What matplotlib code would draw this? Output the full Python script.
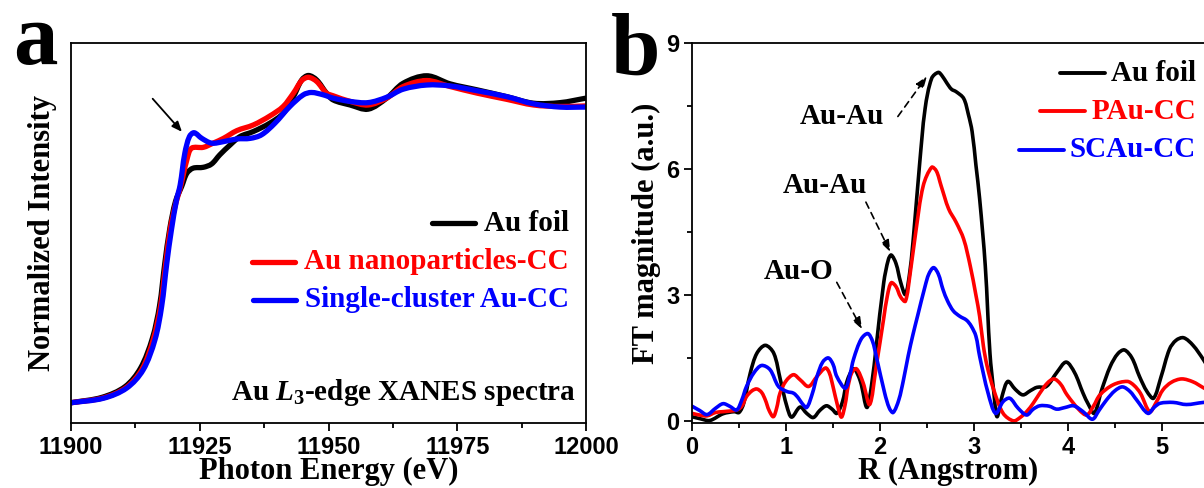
import numpy as np
import matplotlib
matplotlib.use("Agg")
import matplotlib.pyplot as plt
from matplotlib.lines import Line2D
from matplotlib.path import Path
from matplotlib.patches import PathPatch
from matplotlib.ticker import MultipleLocator, NullLocator

SERIF = "Liberation Serif"
SANS = "Liberation Sans"

plt.rcParams["mathtext.fontset"] = "custom"
plt.rcParams["mathtext.rm"] = "Liberation Serif:bold"
plt.rcParams["mathtext.it"] = "Liberation Serif:italic:bold"
plt.rcParams["mathtext.bf"] = "Liberation Serif:bold"

# ---------------- (a) Au L3-edge XANES ----------------
foil_E = [11900, 11906, 11910.5, 11913.5, 11915.8, 11917.2, 11918.2, 11919.2, 11920.3,
          11921.5, 11922.5, 11923.7, 11925.7, 11927.3, 11928.9, 11930.9, 11932.8, 11935.4,
          11938.6, 11941.2, 11943.2, 11944.8, 11946.1, 11947.7, 11949.6, 11950.9, 11954.2,
          11957.7, 11961.3, 11964.5, 11969.1, 11973.6, 11978.8, 11984.6, 11989.8, 11995.0, 12000]
foil_I = [0.004, 0.022, 0.058, 0.12, 0.22, 0.33, 0.47, 0.59, 0.68,
          0.73, 0.774, 0.791, 0.794, 0.805, 0.836, 0.869, 0.897, 0.914,
          0.942, 0.975, 1.031, 1.087, 1.102, 1.087, 1.043, 1.020, 1.003,
          0.989, 1.026, 1.076, 1.101, 1.074, 1.054, 1.031, 1.009, 1.011, 1.026]

np_E = [11900, 11906.2, 11910.7, 11913.8, 11916.0, 11917.4, 11918.4, 11919.3, 11920.3,
        11921.2, 11922.5, 11923.4, 11925.7, 11927.6, 11929.6, 11932.2, 11935.4, 11938.6,
        11941.2, 11943.2, 11944.8, 11946.1, 11947.7, 11949.6, 11950.9, 11954.2, 11957.7,
        11961.3, 11964.5, 11969.1, 11973.6, 11978.8, 11984.6, 11989.8, 11995.0, 12000]
np_I = [0.004, 0.02, 0.055, 0.117, 0.218, 0.33, 0.472, 0.59, 0.67,
        0.724, 0.819, 0.858, 0.861, 0.875, 0.891, 0.917, 0.936, 0.966,
        0.998, 1.043, 1.085, 1.096, 1.082, 1.043, 1.034, 1.015, 1.003,
        1.026, 1.065, 1.085, 1.065, 1.043, 1.022, 1.003, 0.998, 1.0]

sc_E = [11900, 11906.3, 11910.8, 11914.0, 11916.3, 11917.6, 11918.6, 11919.5, 11920.5,
        11921.2, 11922.1, 11923.0, 11923.9, 11925.4, 11927.3, 11929.6, 11932.2, 11934.8,
        11937.0, 11939.6, 11942.5, 11945.1, 11946.7, 11949.0, 11950.9, 11954.2, 11957.7,
        11961.3, 11964.5, 11969.1, 11973.6, 11978.8, 11984.6, 11989.8, 11995.0, 12000]
sc_I = [0.004, 0.019, 0.053, 0.114, 0.215, 0.327, 0.472, 0.584, 0.685,
        0.735, 0.841, 0.897, 0.910, 0.891, 0.875, 0.880, 0.889, 0.891,
        0.903, 0.942, 0.998, 1.037, 1.045, 1.037, 1.026, 1.015, 1.011,
        1.029, 1.056, 1.070, 1.067, 1.051, 1.031, 1.007, 0.996, 0.996]

xanes_labels = ["Au foil", "Au nanoparticles-CC", "Single-cluster Au-CC"]

# ---------------- (b) Fourier transformed EXAFS ----------------
foil_R = [0, 0.09, 0.19, 0.33, 0.45, 0.50, 0.55, 0.62, 0.69, 0.78, 0.87, 0.94, 1.01, 1.06,
          1.15, 1.22, 1.29, 1.36, 1.43, 1.49, 1.54, 1.60, 1.65, 1.72, 1.79, 1.86, 1.91, 1.96,
          2.04, 2.09, 2.12, 2.17, 2.22, 2.27, 2.32, 2.36, 2.42, 2.48, 2.55, 2.62, 2.66, 2.71,
          2.76, 2.81, 2.89, 2.94, 2.98, 3.02, 3.06, 3.12, 3.17, 3.21, 3.245, 3.30, 3.36, 3.44,
          3.52, 3.60, 3.67, 3.77, 3.88, 3.98, 4.07, 4.16, 4.22, 4.28, 4.36, 4.45, 4.53, 4.60,
          4.68, 4.76, 4.84, 4.91, 4.99, 5.08, 5.15, 5.23, 5.33, 5.44, 5.55]
foil_FT = [0.10, 0.05, 0.01, 0.17, 0.22, 0.20, 0.42, 1.14, 1.61, 1.80, 1.61, 0.98, 0.34, 0.09,
           0.33, 0.18, 0.08, 0.25, 0.36, 0.28, 0.18, 0.45, 0.95, 1.24, 0.95, 0.32, 0.85, 1.78,
           3.30, 3.85, 3.95, 3.75, 3.30, 3.01, 3.60, 4.49, 6.08, 7.44, 8.16, 8.30, 8.22, 8.05,
           7.90, 7.84, 7.68, 7.30, 6.89, 6.10, 5.29, 3.69, 1.60, 0.70, 0.10, 0.60, 0.94, 0.75,
           0.62, 0.72, 0.80, 0.82, 1.15, 1.40, 1.15, 0.66, 0.38, 0.18, 0.75, 1.30, 1.60, 1.69,
           1.50, 1.06, 0.70, 0.54, 1.05, 1.71, 1.92, 1.98, 1.80, 1.46, 1.05]

pau_R = [0, 0.08, 0.16, 0.25, 0.33, 0.475, 0.53, 0.58, 0.64, 0.69, 0.74, 0.78, 0.82, 0.865,
         0.90, 0.936, 1.0, 1.08, 1.15, 1.24, 1.33, 1.42, 1.46, 1.50, 1.55, 1.59, 1.63, 1.66,
         1.70, 1.75, 1.82, 1.89, 1.96, 2.04, 2.08, 2.12, 2.17, 2.22, 2.27, 2.32, 2.38, 2.46,
         2.55, 2.60, 2.65, 2.73, 2.81, 2.89, 2.96, 3.02, 3.06, 3.10, 3.14, 3.21, 3.31, 3.42,
         3.49, 3.56, 3.63, 3.70, 3.78, 3.85, 3.92, 3.99, 4.12, 4.20, 4.27, 4.34, 4.48, 4.63,
         4.70, 4.77, 4.87, 4.94, 5.01, 5.10, 5.21, 5.33, 5.44, 5.55]
pau_FT = [0.18, 0.14, 0.12, 0.20, 0.22, 0.26, 0.35, 0.58, 0.72, 0.76, 0.68, 0.50, 0.25, 0.10,
          0.30, 0.66, 0.95, 1.10, 0.98, 0.82, 1.06, 1.26, 1.15, 0.82, 0.35, 0.09, 0.40, 0.82,
          1.15, 1.24, 0.91, 0.39, 1.30, 2.45, 3.00, 3.29, 3.20, 2.95, 2.85, 3.50, 4.49, 5.60,
          6.04, 5.95, 5.60, 5.05, 4.73, 4.33, 3.69, 3.00, 2.49, 1.78, 1.30, 0.74, 0.18, 0.00,
          0.08, 0.22, 0.42, 0.66, 0.90, 1.00, 0.88, 0.62, 0.26, 0.14, 0.35, 0.62, 0.86, 0.94,
          0.85, 0.66, 0.22, 0.45, 0.74, 0.92, 1.00, 0.93, 0.79, 0.65]

scau_R = [0, 0.08, 0.16, 0.25, 0.33, 0.40, 0.475, 0.53, 0.58, 0.66, 0.74, 0.83, 0.92, 1.01,
          1.08, 1.13, 1.17, 1.22, 1.28, 1.33, 1.39, 1.45, 1.50, 1.54, 1.63, 1.68, 1.72, 1.80,
          1.87, 1.92, 1.96, 2.05, 2.10, 2.14, 2.20, 2.25, 2.30, 2.35, 2.40, 2.48, 2.52, 2.57,
          2.62, 2.67, 2.72, 2.78, 2.85, 2.92, 2.97, 3.02, 3.06, 3.15, 3.23, 3.31, 3.38, 3.47,
          3.56, 3.63, 3.70, 3.80, 3.88, 3.97, 4.06, 4.16, 4.26, 4.33, 4.41, 4.50, 4.58, 4.66,
          4.73, 4.85, 4.92, 4.98, 5.12, 5.26, 5.44, 5.55]
scau_FT = [0.35, 0.25, 0.15, 0.30, 0.41, 0.35, 0.26, 0.50, 0.82, 1.15, 1.32, 1.22, 0.82, 0.70,
           0.66, 0.55, 0.42, 0.32, 0.65, 1.06, 1.40, 1.50, 1.35, 1.06, 0.78, 1.10, 1.48, 1.95,
           2.08, 1.90, 1.54, 0.66, 0.30, 0.20, 0.50, 0.98, 1.55, 2.05, 2.50, 3.21, 3.50, 3.65,
           3.50, 3.13, 2.85, 2.62, 2.49, 2.40, 2.26, 2.02, 1.54, 0.66, 0.18, 0.46, 0.54, 0.30,
           0.14, 0.28, 0.36, 0.35, 0.28, 0.32, 0.36, 0.22, 0.04, 0.25, 0.50, 0.72, 0.81, 0.70,
           0.50, 0.18, 0.33, 0.42, 0.44, 0.39, 0.44, 0.45]

exafs_labels = ["Au foil", "PAu-CC", "SCAu-CC"]
colors = ["black", "#ff0000", "#0000ff"]

fig = plt.figure(figsize=(12.04, 4.88), dpi=100)
axa = fig.add_axes([71 / 1204, 65 / 488, 515 / 1204, 380 / 488])
axb = fig.add_axes([692 / 1204, 65 / 488, 512 / 1204, 380 / 488])


def smooth_line(ax, xs, ys, color, lw):
    """Draw a curve through the given points as a chord-length Catmull-Rom
    spline, built from cubic Bezier segments in display space."""
    pts = ax.transData.transform(np.column_stack([xs, ys]))
    n = len(pts)
    d = np.r_[0.0, np.cumsum(np.hypot(*np.diff(pts, axis=0).T))]
    tang = np.zeros_like(pts)
    tang[0] = (pts[1] - pts[0]) / (d[1] - d[0])
    tang[-1] = (pts[-1] - pts[-2]) / (d[-1] - d[-2])
    for i in range(1, n - 1):
        tang[i] = (pts[i + 1] - pts[i - 1]) / (d[i + 1] - d[i - 1])
    verts = [pts[0]]
    codes = [Path.MOVETO]
    for i in range(n - 1):
        h = d[i + 1] - d[i]
        verts += [pts[i] + tang[i] * h / 3, pts[i + 1] - tang[i + 1] * h / 3, pts[i + 1]]
        codes += [Path.CURVE4] * 3
    verts = ax.transData.inverted().transform(np.array(verts))
    ax.add_patch(PathPatch(Path(verts, codes), facecolor="none", edgecolor=color, lw=lw,
                           capstyle="round", joinstyle="round", transform=ax.transData))


def style_ticks(ax):
    for lab in ax.get_xticklabels() + ax.get_yticklabels():
        lab.set_fontfamily(SANS)
        lab.set_fontweight("bold")
        lab.set_fontsize(17)
    for sp in ax.spines.values():
        sp.set_linewidth(1.3)
    ax.tick_params(which="major", direction="out", length=6, width=1.3, pad=3)
    ax.tick_params(which="minor", direction="out", length=3.5, width=1.3)


# panel a
axa.set_xlim(11900, 12000)
axa.set_ylim(-0.064, 1.211)
for E, I, c in zip([foil_E, np_E, sc_E], [foil_I, np_I, sc_I], colors):
    smooth_line(axa, E, I, c, 3.8)
axa.xaxis.set_major_locator(MultipleLocator(25))
axa.xaxis.set_minor_locator(MultipleLocator(12.5))
axa.yaxis.set_major_locator(NullLocator())
axa.set_xlabel("Photon Energy (eV)", fontfamily=SERIF, fontweight="bold", fontsize=22, labelpad=-1)
axa.set_ylabel("Normalized Intensity", fontfamily=SERIF, fontweight="bold", fontsize=22, labelpad=10)
style_ticks(axa)
axa.annotate("", xy=(11921.9, 0.906), xytext=(11915.5, 1.031),
             arrowprops=dict(arrowstyle="-|>,head_length=0.6,head_width=0.25", color="black", lw=1.3))
axa.text(0.981, 0.079, r"Au $\mathit{L}_{\mathrm{3}}$-edge XANES spectra", transform=axa.transAxes,
         ha="right", va="center", fontfamily=SERIF, fontweight="bold", fontsize=21)

# panel b
axb.set_xlim(0, 512 / 94)
axb.set_ylim(-0.05, 9)
for R, F, c in zip([foil_R, pau_R, scau_R], [foil_FT, pau_FT, scau_FT], colors):
    smooth_line(axb, R, F, c, 2.6)
axb.xaxis.set_major_locator(MultipleLocator(1))
axb.xaxis.set_minor_locator(MultipleLocator(0.5))
axb.yaxis.set_major_locator(MultipleLocator(3))
axb.yaxis.set_minor_locator(MultipleLocator(1.5))
axb.spines["right"].set_visible(False)
axb.set_xlabel("R (Angstrom)", fontfamily=SERIF, fontweight="bold", fontsize=22, labelpad=-1)
axb.set_ylabel("FT magnitude (a.u.)", fontfamily=SERIF, fontweight="bold", fontsize=22, labelpad=4)
style_ticks(axb)

dash_arrow = dict(arrowstyle="-|>,head_length=0.7,head_width=0.25", color="black", lw=1.2,
                  linestyle=(0, (4, 3)), shrinkA=0, shrinkB=0)
for txt, tpos, start, end in [("Au-Au", (1.60, 7.25), (2.19, 7.25), (2.50, 8.21)),
                              ("Au-Au", (1.41, 5.60), (1.85, 5.21), (2.11, 4.02)),
                              ("Au-O", (1.13, 3.56), (1.54, 3.30), (1.81, 2.18))]:
    axb.text(*tpos, txt, ha="center", va="center", fontfamily=SERIF, fontweight="bold", fontsize=21)
    axb.annotate("", xy=end, xytext=start, arrowprops=dash_arrow)

fig.text(0.011, 0.868, "a", fontfamily=SERIF, fontweight="bold", fontsize=64, ha="left", va="baseline")
fig.text(0.507, 0.847, "b", fontfamily=SERIF, fontweight="bold", fontsize=64, ha="left", va="baseline")


def right_aligned_legend(ax, labels, cols, x_right, ys, transform, hlen, gap, lw, fs):
    texts = []
    for lab, c, y in zip(labels, cols, ys):
        texts.append(ax.text(x_right, y, lab, transform=transform, ha="right", va="center",
                             color=c, fontfamily=SERIF, fontweight="bold", fontsize=fs))
    fig.canvas.draw()
    r = fig.canvas.get_renderer()
    inv = fig.transFigure.inverted()
    for t, c, y in zip(texts, cols, ys):
        bb = t.get_window_extent(r)
        yc = transform.transform((x_right, y))[1]
        x1 = bb.x0 - gap
        x0 = x1 - hlen
        (fx0, fy), (fx1, _) = inv.transform([(x0, yc), (x1, yc)])
        fig.add_artist(Line2D([fx0, fx1], [fy, fy], color=c, lw=lw, solid_capstyle="round"))


right_aligned_legend(axa, xanes_labels, colors, 0.967, [0.526, 0.424, 0.324], axa.transAxes,
                     43, 9, 3.8, 21)
right_aligned_legend(axb, exafs_labels, colors, 5.36, [8.28, 7.37, 6.46], axb.transData,
                     45, 6, 2.8, 21)

fig.savefig("out.png", dpi=100)
